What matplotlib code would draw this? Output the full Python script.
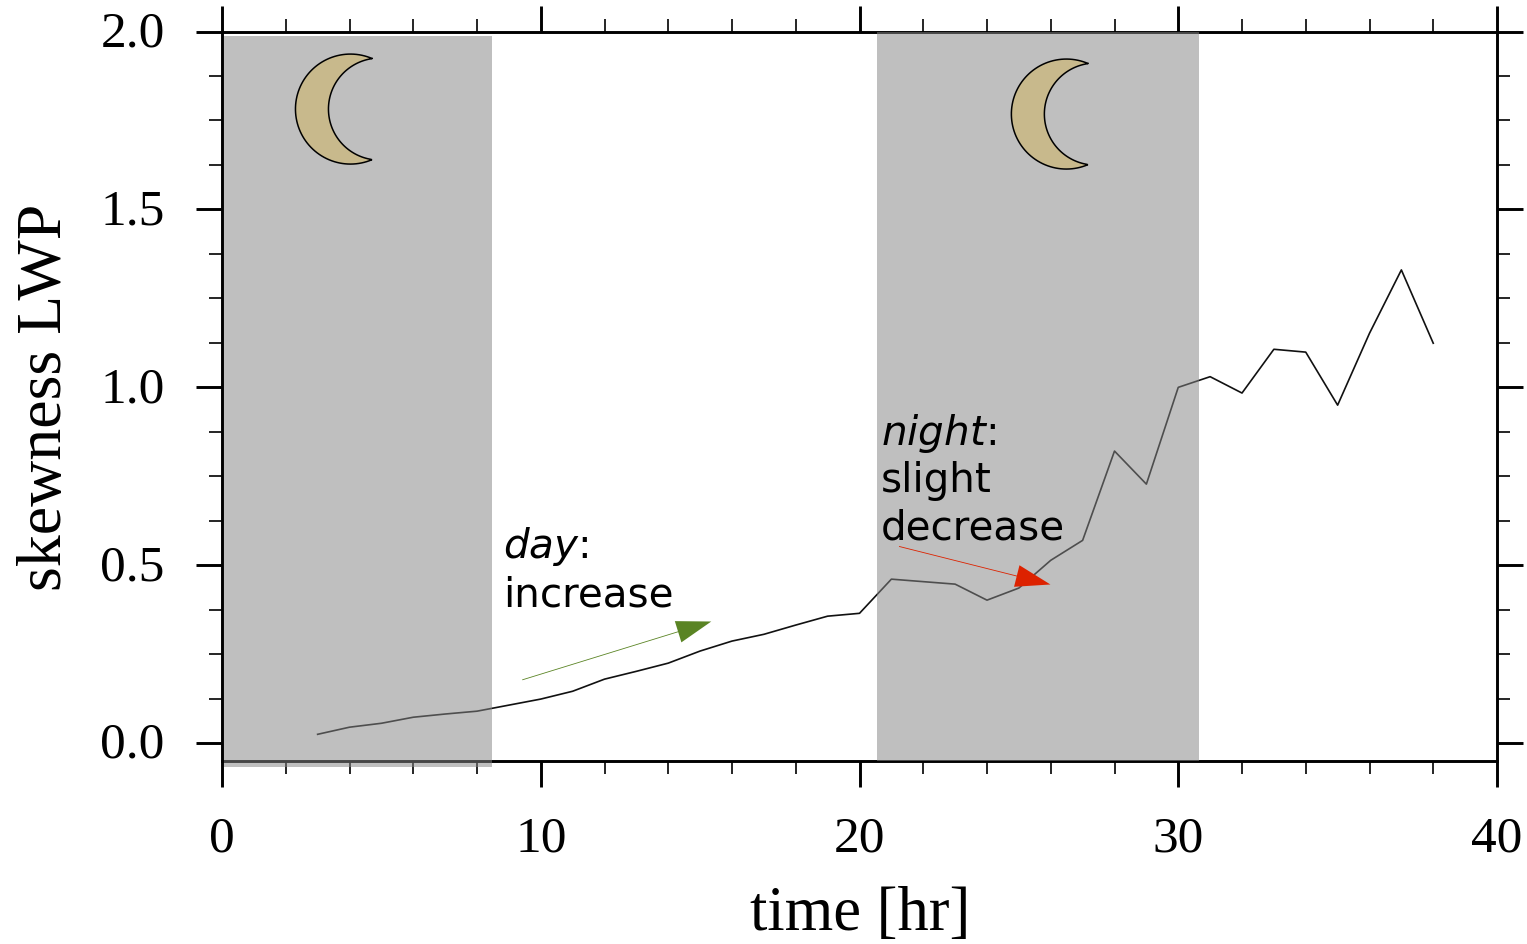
import matplotlib
matplotlib.use("Agg")
import matplotlib.pyplot as plt
import numpy as np
from matplotlib.patches import Polygon, Rectangle
from matplotlib.ticker import MultipleLocator
from matplotlib.transforms import ScaledTranslation

plt.rcParams["font.family"] = ["Liberation Serif", "DejaVu Serif"]
plt.rcParams["mathtext.fontset"] = "dejavusans"

hours = list(range(3, 39))
skewness = [0.025, 0.045, 0.056, 0.073, 0.082, 0.090, 0.107, 0.124, 0.146, 0.180,
            0.202, 0.225, 0.259, 0.287, 0.306, 0.332, 0.357, 0.365, 0.461, 0.454,
            0.447, 0.402, 0.436, 0.514, 0.570, 0.821, 0.728, 1.000, 1.030, 0.984,
            1.107, 1.099, 0.950, 1.152, 1.330, 1.124]

night_x = [(0.06, 8.47), (20.55, 30.65)]
night_y = [(-0.067, 1.987), (-0.05, 2.0)]
moon_x = [4.03, 26.49]
moon_y = [1.782, 1.768]

day_arrow = [(9.42, 0.178), (15.35, 0.342)]
night_arrow = [(21.24, 0.553), (25.99, 0.446)]

W, H = 1527, 944
fig = plt.figure(figsize=(W / 100, H / 100), dpi=100)
ax = fig.add_axes([222 / W, 1 - 761 / H, (1497 - 222) / W, (761 - 31.5) / H])
ax.set_xlim(0, 40)
ax.set_ylim(-0.05, 2.0)
px_x = 1275 / 40
px_y = 729.5 / 2.05

ax.plot(hours, skewness, color="#111111", linewidth=1.2, zorder=2)

for (x0, x1), (y0, y1) in zip(night_x, night_y):
    ax.add_patch(Rectangle((x0, y0), x1 - x0, y1 - y0, facecolor="#868686", alpha=0.525,
                           edgecolor="none", clip_on=False, zorder=4))


def moon(cx, cy):
    # crescent from two arcs, sizes in pixels
    a = np.radians(np.linspace(66.5, 293, 80))
    outer = np.c_[cx + 55 * np.cos(a) / px_x, cy + 55 * np.sin(a) / px_y]
    b = np.radians(np.linspace(260, 98, 80))
    inner = np.c_[cx + (29 + 51 * np.cos(b)) / px_x, cy + 51 * np.sin(b) / px_y]
    ax.add_patch(Polygon(np.r_[outer, inner], closed=True, facecolor="#c8b98c",
                         edgecolor="black", linewidth=1.1, zorder=5))


for cx, cy in zip(moon_x, moon_y):
    moon(cx, cy)

arrow_text = dict(family="DejaVu Sans", fontsize=29.2, color="black", va="top", ha="left",
                  linespacing=1.22, zorder=7)
ax.text(8.81, 0.612, "$\\mathit{day}$:\nincrease", **arrow_text)
ax.text(20.66, 0.932, "$\\mathit{night}$:\nslight\ndecrease", **arrow_text)

ax.annotate("", xy=day_arrow[1], xytext=day_arrow[0], zorder=6,
            arrowprops=dict(width=0.6, headwidth=16, headlength=25, shrink=0,
                            facecolor="#5a8424", edgecolor="none"))
ax.annotate("", xy=night_arrow[1], xytext=night_arrow[0], zorder=6,
            arrowprops=dict(width=0.6, headwidth=16, headlength=25, shrink=0,
                            facecolor="#dd2200", edgecolor="none"))

ax.xaxis.set_major_locator(MultipleLocator(10))
ax.xaxis.set_minor_locator(MultipleLocator(2))
ax.yaxis.set_major_locator(MultipleLocator(0.5))
ax.yaxis.set_minor_locator(MultipleLocator(0.125))
ax.tick_params(which="major", direction="out", length=18.7, width=2.1, top=True, right=True,
               labelsize=37, pad=21)
ax.tick_params(axis="y", which="major", pad=22.5)
ax.tick_params(which="minor", direction="out", length=9.4, width=1.2, top=True, right=True)
ax.set_yticks([0, 0.5, 1.0, 1.5, 2.0])
ax.set_yticklabels(["0.0", "0.5", "1.0", "1.5", "2.0"])
ax.set_xticks([0, 10, 20, 30, 40])
lift = ScaledTranslation(0, 3 / 100, fig.dpi_scale_trans)
for label in ax.get_yticklabels():
    label.set_transform(label.get_transform() + lift)
for spine in ax.spines.values():
    spine.set_linewidth(2.1)

fig.text(860 / W, 1 - 930 / H, "time [hr]", fontsize=45, ha="center", va="baseline")
fig.text(75 / W, 1 - 397 / H, "skewness LWP", fontsize=46, rotation=90, ha="right", va="center")

fig.savefig("out.png", dpi=100)
